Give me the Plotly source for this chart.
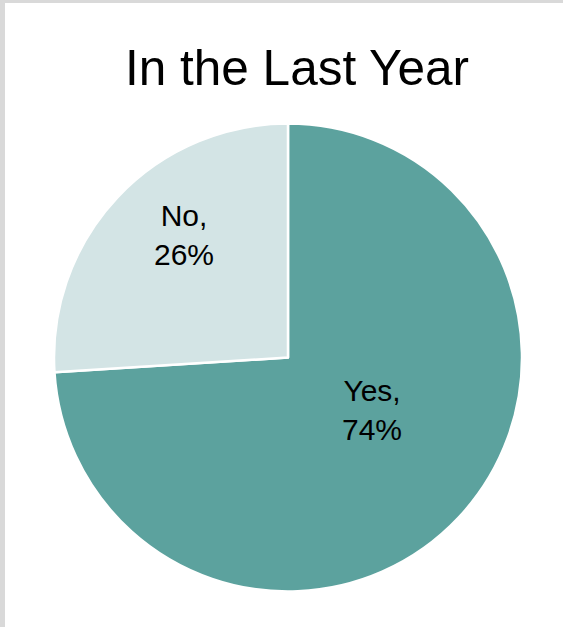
import plotly.graph_objects as go

# Data
categories = ["Yes", "No"]
shares = [74, 26]
title_text = "In the Last Year"

# Styling
W, H = 563, 627
slice_colors = ["#5CA29E", "#D3E4E5"]
font_family = "Liberation Sans, Arial, sans-serif"

# Pie geometry in pixels (centre and radius)
cx, cy, R = 288, 357.5, 234
# Label centres in pixels, one per category
label_px = {"Yes": (372, 410), "No": (184, 235)}

fig = go.Figure()
fig.add_trace(go.Pie(
    labels=categories,
    values=shares,
    sort=False,
    direction="clockwise",
    rotation=0,
    marker=dict(colors=slice_colors, line=dict(color="white", width=2.5)),
    textinfo="none",
    hoverinfo="label+percent",
    showlegend=False,
    domain=dict(x=[(cx - R) / W, (cx + R) / W],
                y=[(H - cy - R) / H, (H - cy + R) / H]),
))

annotations = []
for cat, val in zip(categories, shares):
    px, py = label_px[cat]
    annotations.append(dict(
        x=px / W, y=1 - py / H, xref="paper", yref="paper",
        text=f"{cat},<br>{val}%", showarrow=False,
        xanchor="center", yanchor="middle",
        font=dict(family=font_family, size=30, color="#000000"),
    ))

# Chart title
annotations.append(dict(
    x=297 / W, y=1 - 68 / H, xref="paper", yref="paper",
    text=title_text, showarrow=False, xanchor="center", yanchor="middle",
    font=dict(family=font_family, size=49.5, color="#000000"),
))

# Thin grey frame along the left and top edges
shapes = [
    dict(type="rect", xref="paper", yref="paper", x0=0, x1=5 / W, y0=0, y1=1,
         fillcolor="#D9D9D9", line=dict(width=0), layer="below"),
    dict(type="rect", xref="paper", yref="paper", x0=0, x1=1, y0=1 - 3 / H, y1=1,
         fillcolor="#D9D9D9", line=dict(width=0), layer="below"),
]

fig.update_layout(
    width=W, height=H,
    margin=dict(l=0, r=0, t=0, b=0),
    paper_bgcolor="white", plot_bgcolor="white",
    annotations=annotations, shapes=shapes,
)

fig.write_html("out.html")
